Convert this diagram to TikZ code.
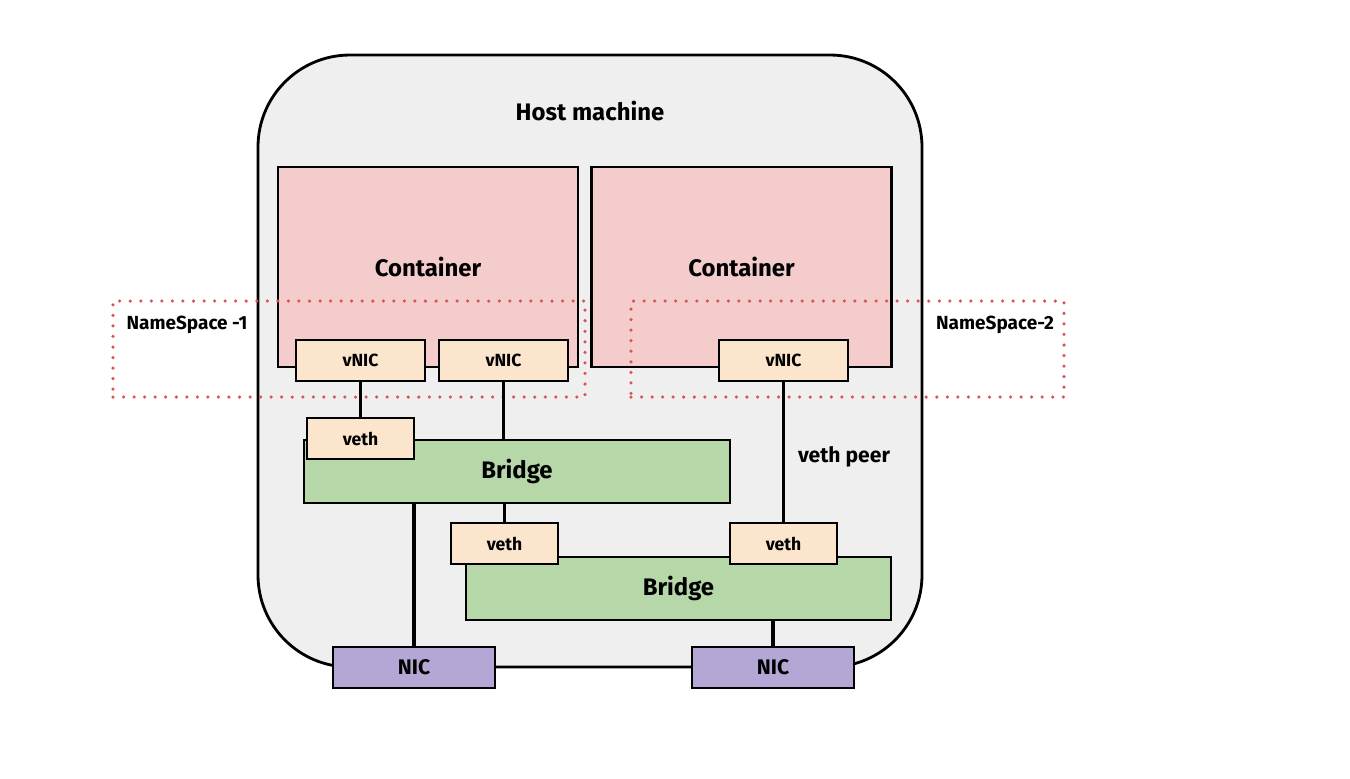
\documentclass[tikz,border=0pt]{standalone}
\usepackage{fontspec}
\setmainfont{Fira Sans}
\usetikzlibrary{positioning}
\definecolor{hostgray}{HTML}{EFEFEF}
\definecolor{contpink}{HTML}{F4CCCC}
\definecolor{nicpeach}{HTML}{FCE5CD}
\definecolor{brgreen}{HTML}{B6D7A8}
\definecolor{nicpurple}{HTML}{B4A7D6}
\definecolor{nsred}{HTML}{D9534F}
\begin{document}
\begin{tikzpicture}
        \tikzset{block/.style= {draw, rectangle, align=center, line width=0.8pt, inner sep=0pt, font=\bfseries\fontsize{5}{6}\selectfont},
        container/.style={block, fill=contpink, minimum width=3cm, minimum height=2cm, font=\bfseries\fontsize{6.8}{8}\selectfont},
        vnic/.style={block, fill=nicpeach, minimum width=1.29cm, minimum height=0.41cm},
        veth/.style={block, fill=nicpeach, minimum width=1.07cm, minimum height=0.41cm},
        bridge/.style={block, fill=brgreen, minimum width=4.25cm, minimum height=0.63cm, font=\bfseries\fontsize{6.8}{8}\selectfont},
        nic/.style={block, fill=nicpurple, minimum width=1.62cm, minimum height=0.41cm, font=\bfseries\fontsize{6}{7}\selectfont},
        nspace/.style={draw=nsred, rectangle, line width=1pt, dash pattern=on 0pt off 3pt, line cap=round, inner sep=0pt, minimum height=0.96cm},
        lbl/.style={font=\bfseries\fontsize{5.4}{6}\selectfont, inner sep=0pt},
        link/.style={draw, line width=1pt}
        }
        \useasboundingbox (0,0) rectangle (13.5,-7.78);
        % host
        \node [draw, line width=0.8pt, fill=hostgray, rounded corners=0.92cm, minimum width=6.64cm, minimum height=6.12cm] (host) at (5.90,-3.61) {};
        \node [font=\bfseries\fontsize{6.8}{8}\selectfont] (hostlbl) at (5.90,-1.11) {Host machine};
        % containers
        \node [container] (cont1) at (4.28,-2.67) {Container};
        \node [container] (cont2) at (7.415,-2.67) {Container};
        % namespaces
        \node [nspace, minimum width=4.72cm] (ns1) at (3.49,-3.49) {};
        \node [nspace, minimum width=4.33cm] (ns2) at (8.475,-3.49) {};
        \node [lbl] (ns1lbl) at (1.87,-3.25) {NameSpace -1};
        \node [lbl] (ns2lbl) at (9.95,-3.25) {NameSpace-2};
        % vnics
        \node [vnic] (vnic1) at (3.605,-3.605) {vNIC};
        \node [vnic] (vnic2) at (5.035,-3.605) {vNIC};
        \node [vnic] (vnic3) at (7.835,-3.605) {vNIC};
        % bridges
        \node [bridge, minimum width=4.26cm] (br1) at (5.17,-4.715) {Bridge};
        \node [bridge] (br2) at (6.785,-5.885) {Bridge};
        % veths
        \node [veth] (veth1) at (3.605,-4.385) {veth};
        \node [veth] (veth2) at (5.045,-5.435) {veth};
        \node [veth] (veth3) at (7.835,-5.435) {veth};
        % nics
        \node [nic] (nic1) at (4.14,-6.675) {NIC};
        \node [nic] (nic2) at (7.73,-6.675) {NIC};
        \node [font=\bfseries\fontsize{6}{7}\selectfont, inner sep=0pt] (peer) at (8.44,-4.57) {veth peer};
%% paths
        \path[link] (vnic1) -- (veth1)
                    (vnic2.south) -- (vnic2.south |- br1.north)
                    (veth2.north) -- (veth2.north |- br1.south)
                    (vnic3) -- (veth3)
                    (nic1.north) -- (nic1.north |- br1.south)
                    (nic2.north) -- (nic2.north |- br2.south)
                    ;
    \end{tikzpicture}
\end{document}
